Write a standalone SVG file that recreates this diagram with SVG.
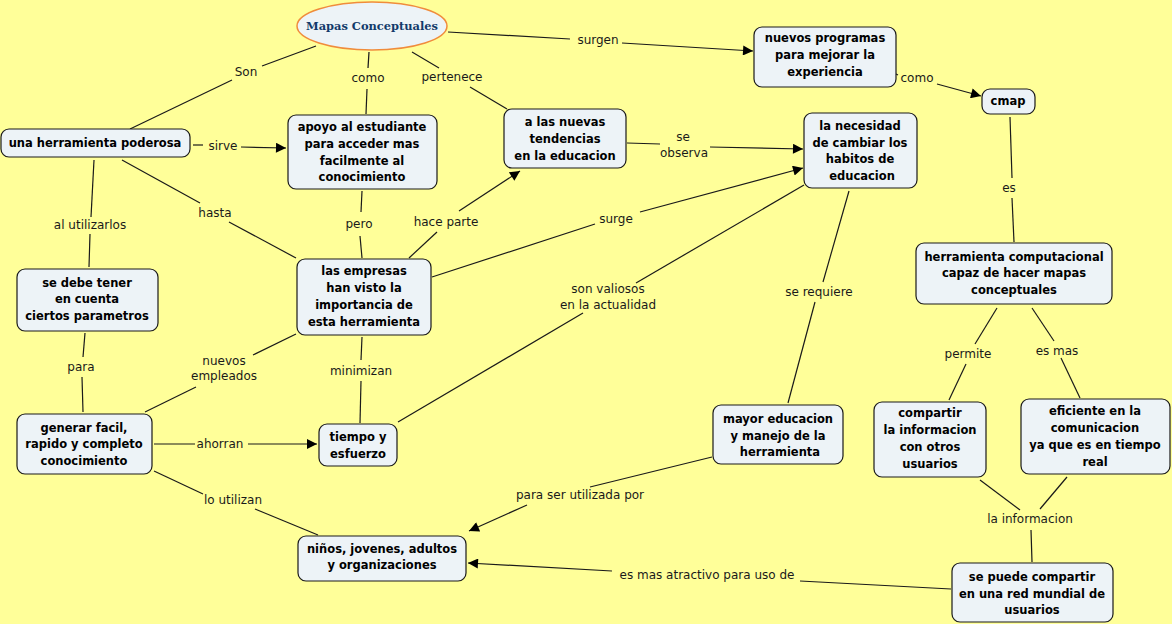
<svg xmlns="http://www.w3.org/2000/svg" width="1172" height="624" viewBox="0 0 1172 624">
<defs>
<marker id="arr" viewBox="0 0 10 10" refX="10" refY="5" markerWidth="14" markerHeight="10" markerUnits="userSpaceOnUse" orient="auto">
<path d="M0,0 L10,5 L0,10 z" fill="#000"/>
</marker>
<style>
.bg{fill:#ffff99}
.node rect{fill:#edf3f7;stroke:#1a1a1a;stroke-width:1.2}
.node text{font-family:"DejaVu Sans","Verdana",sans-serif;font-weight:bold;font-size:11.5px;fill:#000;text-anchor:middle}
.lbl{font-family:"DejaVu Sans","Verdana",sans-serif;font-size:12px;fill:#1a1a1a;text-anchor:middle}
#connectors line{stroke:#1a1a1a;stroke-width:1.2;fill:none}
#connectors line.a{marker-end:url(#arr)}
.title ellipse{fill:#edf3f7;stroke:#f08c3c;stroke-width:1.5}
.title text{font-family:"DejaVu Serif","Liberation Serif",serif;font-weight:bold;font-size:11px;fill:#123a6a;text-anchor:middle}
</style>
</defs>
<rect class="bg" x="0" y="0" width="1172" height="624"/>

<g id="connectors">
<line x1="316" y1="46" x2="262" y2="66"/>
<line x1="232" y1="80" x2="130" y2="129"/>
<line x1="369" y1="52" x2="368" y2="68"/>
<line x1="367" y1="89" x2="366" y2="114"/>
<line x1="412" y1="52" x2="439" y2="68"/>
<line x1="470" y1="87" x2="507" y2="109"/>
<line x1="448" y1="32" x2="570" y2="39"/>
<line class="a" x1="622" y1="43" x2="753" y2="51"/>
<line x1="896" y1="74" x2="898" y2="75"/>
<line class="a" x1="937" y1="84" x2="981" y2="96"/>
<line x1="1010" y1="117" x2="1012" y2="178"/>
<line x1="1012" y1="198" x2="1014" y2="242"/>
<line x1="997" y1="308" x2="975" y2="344"/>
<line x1="966" y1="364" x2="949" y2="400"/>
<line x1="1032" y1="308" x2="1054" y2="341"/>
<line x1="1061" y1="358" x2="1080" y2="398"/>
<line x1="980" y1="480" x2="1020" y2="510"/>
<line x1="1067" y1="477" x2="1040" y2="509"/>
<line x1="1031" y1="530" x2="1032" y2="562"/>
<line x1="951" y1="589" x2="800" y2="581"/>
<line class="a" x1="612" y1="571" x2="468" y2="563"/>
<line x1="712" y1="457" x2="590" y2="487"/>
<line class="a" x1="527" y1="505" x2="469" y2="531"/>
<line x1="849" y1="191" x2="823" y2="282"/>
<line x1="815" y1="302" x2="788" y2="403"/>
<line x1="627" y1="143" x2="660" y2="144"/>
<line class="a" x1="710" y1="147" x2="803" y2="149"/>
<line x1="432" y1="277" x2="595" y2="224"/>
<line class="a" x1="640" y1="212" x2="803" y2="168"/>
<line x1="398" y1="422" x2="583" y2="313"/>
<line x1="636" y1="283" x2="804" y2="185"/>
<line x1="409" y1="258" x2="437" y2="232"/>
<line class="a" x1="459" y1="211" x2="520" y2="171"/>
<line x1="362" y1="191" x2="361" y2="212"/>
<line x1="360" y1="236" x2="362" y2="258"/>
<line x1="362" y1="337" x2="361" y2="360"/>
<line x1="361" y1="381" x2="360" y2="423"/>
<line x1="122" y1="160" x2="200" y2="203"/>
<line x1="229" y1="222" x2="296" y2="258"/>
<line x1="193" y1="145" x2="203" y2="145"/>
<line class="a" x1="241" y1="147" x2="286" y2="148"/>
<line x1="94" y1="160" x2="91" y2="217"/>
<line x1="90" y1="234" x2="89" y2="267"/>
<line x1="85" y1="333" x2="83" y2="357"/>
<line x1="82" y1="377" x2="83" y2="412"/>
<line x1="296" y1="334" x2="253" y2="355"/>
<line x1="196" y1="387" x2="145" y2="412"/>
<line x1="154" y1="444" x2="195" y2="444"/>
<line class="a" x1="248" y1="444" x2="317" y2="444"/>
<line x1="154" y1="471" x2="203" y2="494"/>
<line x1="255" y1="509" x2="318" y2="535"/>

<text class="lbl" x="246" y="76">Son</text>
<text class="lbl" x="368" y="82">como</text>
<text class="lbl" x="452" y="81">pertenece</text>
<text class="lbl" x="598" y="44">surgen</text>
<text class="lbl" x="917" y="82">como</text>
<text class="lbl" x="1009" y="192">es</text>
<text class="lbl" x="968" y="358">permite</text>
<text class="lbl" x="1057" y="355">es mas</text>
<text class="lbl" x="1030" y="523">la informacion</text>
<text class="lbl" x="707" y="579">es mas atractivo para uso de</text>
<text class="lbl" x="580" y="499">para ser utilizada por</text>
<text class="lbl" x="819" y="296">se requiere</text>
<text class="lbl" x="683" y="141">se</text>
<text class="lbl" x="684" y="157">observa</text>
<text class="lbl" x="616" y="223">surge</text>
<text class="lbl" x="608" y="293">son valiosos</text>
<text class="lbl" x="608" y="309">en la actualidad</text>
<text class="lbl" x="446" y="226">hace parte</text>
<text class="lbl" x="359" y="228">pero</text>
<text class="lbl" x="361" y="375">minimizan</text>
<text class="lbl" x="215" y="217">hasta</text>
<text class="lbl" x="223" y="150">sirve</text>
<text class="lbl" x="90" y="229">al utilizarlos</text>
<text class="lbl" x="81" y="371">para</text>
<text class="lbl" x="224" y="365">nuevos</text>
<text class="lbl" x="224" y="380">empleados</text>
<text class="lbl" x="220" y="448">ahorran</text>
<text class="lbl" x="233" y="504">lo utilizan</text>
</g>

<g id="n-title" class="title">
<ellipse cx="372" cy="26" rx="75" ry="24"/>
<text x="372" y="30" textLength="132" lengthAdjust="spacingAndGlyphs">Mapas Conceptuales</text>
</g>

<g id="n-herramienta" class="node">
<rect x="1" y="129" width="189" height="28" rx="8"/>
<text x="95" y="147">una herramienta poderosa</text>
</g>

<g id="n-apoyo" class="node">
<rect x="288" y="115" width="149" height="74" rx="8"/>
<text x="362" y="131">apoyo al estudiante</text>
<text x="362" y="148">para acceder mas</text>
<text x="362" y="165">facilmente al</text>
<text x="362" y="181">conocimiento</text>
</g>

<g id="n-tendencias" class="node">
<rect x="504" y="109" width="122" height="59" rx="8"/>
<text x="565" y="126">a las nuevas</text>
<text x="565" y="143">tendencias</text>
<text x="565" y="160">en la educacion</text>
</g>

<g id="n-programas" class="node">
<rect x="754" y="27" width="142" height="60" rx="8"/>
<text x="825" y="42">nuevos programas</text>
<text x="825" y="59">para mejorar la</text>
<text x="825" y="76">experiencia</text>
</g>

<g id="n-cmap" class="node">
<rect x="982" y="89" width="53" height="25" rx="8"/>
<text x="1008" y="105">cmap</text>
</g>

<g id="n-necesidad" class="node">
<rect x="804" y="113" width="113" height="75" rx="8"/>
<text x="860" y="130">la necesidad</text>
<text x="860" y="147">de cambiar los</text>
<text x="860" y="163">habitos de</text>
<text x="862" y="180">educacion</text>
</g>

<g id="n-computacional" class="node">
<rect x="916" y="243" width="196" height="61" rx="8"/>
<text x="1014" y="261">herramienta computacional</text>
<text x="1014" y="277">capaz de hacer mapas</text>
<text x="1014" y="294">conceptuales</text>
</g>

<g id="n-parametros" class="node">
<rect x="17" y="269" width="141" height="62" rx="8"/>
<text x="87" y="287">se debe tener</text>
<text x="87" y="303">en cuenta</text>
<text x="87" y="320">ciertos parametros</text>
</g>

<g id="n-empresas" class="node">
<rect x="297" y="259" width="134" height="76" rx="8"/>
<text x="364" y="275">las empresas</text>
<text x="364" y="292">han visto la</text>
<text x="364" y="309">importancia de</text>
<text x="364" y="326">esta herramienta</text>
</g>

<g id="n-generar" class="node">
<rect x="17" y="414" width="135" height="60" rx="8"/>
<text x="84" y="432">generar facil,</text>
<text x="84" y="448">rapido y completo</text>
<text x="84" y="465">conocimiento</text>
</g>

<g id="n-tiempo" class="node">
<rect x="319" y="424" width="78" height="42" rx="8"/>
<text x="358" y="441">tiempo y</text>
<text x="358" y="458">esfuerzo</text>
</g>

<g id="n-ninos" class="node">
<rect x="298" y="536" width="168" height="45" rx="8"/>
<text x="382" y="553">niños, jovenes, adultos</text>
<text x="382" y="569">y organizaciones</text>
</g>

<g id="n-mayor" class="node">
<rect x="713" y="405" width="130" height="59" rx="8"/>
<text x="778" y="423">mayor educacion</text>
<text x="778" y="440">y manejo de la</text>
<text x="780" y="456">herramienta</text>
</g>

<g id="n-compartir" class="node">
<rect x="874" y="402" width="112" height="75" rx="8"/>
<text x="930" y="417">compartir</text>
<text x="930" y="434">la informacion</text>
<text x="930" y="451">con otros</text>
<text x="930" y="468">usuarios</text>
</g>

<g id="n-eficiente" class="node">
<rect x="1021" y="399" width="149" height="75" rx="8"/>
<text x="1095" y="415">eficiente en la</text>
<text x="1095" y="432">comunicacion</text>
<text x="1095" y="449">ya que es en tiempo</text>
<text x="1095" y="466">real</text>
</g>

<g id="n-red" class="node">
<rect x="952" y="563" width="161" height="59" rx="8"/>
<text x="1032" y="581">se puede compartir</text>
<text x="1032" y="598">en una red mundial de</text>
<text x="1032" y="614">usuarios</text>
</g>
</svg>
